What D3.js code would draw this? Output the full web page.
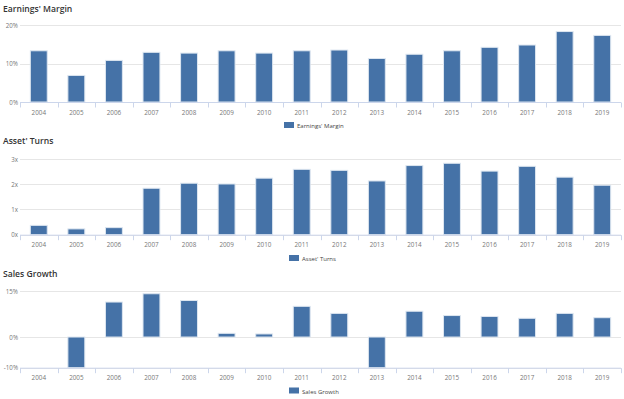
<!DOCTYPE html>
<html>
<head>
<meta charset="utf-8">
<script src="https://d3js.org/d3.v7.min.js"></script>
<style>
  body { margin: 0; background: #fff; }
  svg { display: block; font-family: "Open Sans", "DejaVu Sans", sans-serif; }
</style>
</head>
<body>
<svg width="624" height="399"></svg>
<script>
var years = ["2004","2005","2006","2007","2008","2009","2010","2011","2012","2013","2014","2015","2016","2017","2018","2019"];

var earningsMargin = [13.3, 6.9, 10.8, 12.9, 12.7, 13.3, 12.7, 13.3, 13.5, 11.3, 12.4, 13.3, 14.2, 14.8, 18.3, 17.3];
var assetTurns = [0.37, 0.23, 0.28, 1.84, 2.04, 2.01, 2.24, 2.59, 2.55, 2.13, 2.74, 2.83, 2.52, 2.71, 2.28, 1.96];
var salesGrowth = [null, -10, 11.4, 14.1, 11.9, 1.2, 1.0, 10.0, 7.7, -10, 8.4, 7.0, 6.7, 6.1, 7.7, 6.3];

var marginTicks = [0, 10, 20];
var turnsTicks = [0, 1, 2, 3];
var growthTicks = [-10, 0, 15];

var svg = d3.select("svg");
var barColor = "#4572a7";

var x = d3.scaleBand().domain(years).range([20, 621]).paddingInner(0.55).paddingOuter(0.275);

function panel(cfg) {
  var g = svg.append("g");
  var y = d3.scaleLinear().domain(cfg.domain).range([cfg.bottom, cfg.top]);

  g.append("text")
    .attr("x", 3).attr("y", cfg.titleY)
    .attr("font-size", 8.6).attr("font-weight", 600).attr("fill", "#333")
    .text(cfg.title);

  // gridlines
  g.selectAll(".grid").data(cfg.ticks).enter().append("line")
    .attr("x1", 20).attr("x2", 621)
    .attr("y1", function(d) { return Math.round(y(d)) + 0.5; })
    .attr("y2", function(d) { return Math.round(y(d)) + 0.5; })
    .attr("stroke", "#e6e6e6");

  g.selectAll(".ylab").data(cfg.ticks).enter().append("text")
    .attr("x", 18).attr("y", function(d) { return y(d) + 2.5; })
    .attr("text-anchor", "end").attr("font-size", 6.2).attr("fill", "#777")
    .text(cfg.fmt);

  // bars
  g.selectAll(".bar").data(cfg.values.map(function(v, i) { return {year: years[i], v: v}; }).filter(function(d) { return d.v != null; }))
    .enter().append("rect")
    .attr("x", function(d) { return x(d.year); })
    .attr("width", x.bandwidth())
    .attr("y", function(d) { return Math.min(y(d.v), y(0)); })
    .attr("height", function(d) { return Math.abs(y(d.v) - y(0)); })
    .attr("fill", barColor)
    .attr("stroke", "#dde6f0").attr("stroke-width", 1);

  // x axis
  var axisY = cfg.bottom + 0.5;
  var xa = g.append("g").attr("transform", "translate(0," + axisY + ")");
  xa.append("line").attr("x1", 20).attr("x2", 621).attr("stroke", "#ccd6eb");
  var edges = years.map(function(d) { return x(d) - x.step() * x.paddingInner() / 2; }).concat([621]);
  xa.selectAll(".tk").data(edges).enter().append("line")
    .attr("x1", function(d) { return Math.round(d) + 0.5; })
    .attr("x2", function(d) { return Math.round(d) + 0.5; })
    .attr("y1", 0).attr("y2", 5).attr("stroke", "#ccd6eb");
  xa.selectAll(".xl").data(years).enter().append("text")
    .attr("x", function(d) { return x(d) + x.bandwidth() / 2; })
    .attr("y", cfg.labelY - axisY)
    .attr("text-anchor", "middle").attr("font-size", 6.3).attr("fill", "#777")
    .text(function(d) { return d; });

  // legend
  var lg = g.append("g").attr("transform", "translate(" + cfg.legendX + "," + cfg.legendY + ")");
  lg.append("rect").attr("x", 0).attr("y", -4).attr("width", 10).attr("height", 6).attr("fill", barColor);
  lg.append("text").attr("x", 13).attr("y", 2).attr("font-size", 6).attr("fill", "#444").text(cfg.title);
}

panel({ title: "Earnings' Margin", values: earningsMargin, domain: [0, 20], ticks: marginTicks,
  fmt: function(d) { return d + "%"; }, top: 25, bottom: 102, titleY: 11.5, labelY: 114.5, legendX: 284, legendY: 126 });
panel({ title: "Asset' Turns", values: assetTurns, domain: [0, 3], ticks: turnsTicks,
  fmt: function(d) { return d + "x"; }, top: 159, bottom: 234.7, titleY: 144, labelY: 247.5, legendX: 289, legendY: 259 });
panel({ title: "Sales Growth", values: salesGrowth, domain: [-10, 15], ticks: growthTicks,
  fmt: function(d) { return d + "%"; }, top: 291, bottom: 367.7, titleY: 276.5, labelY: 380.5, legendX: 289, legendY: 391.5 });
</script>
</body>
</html>
